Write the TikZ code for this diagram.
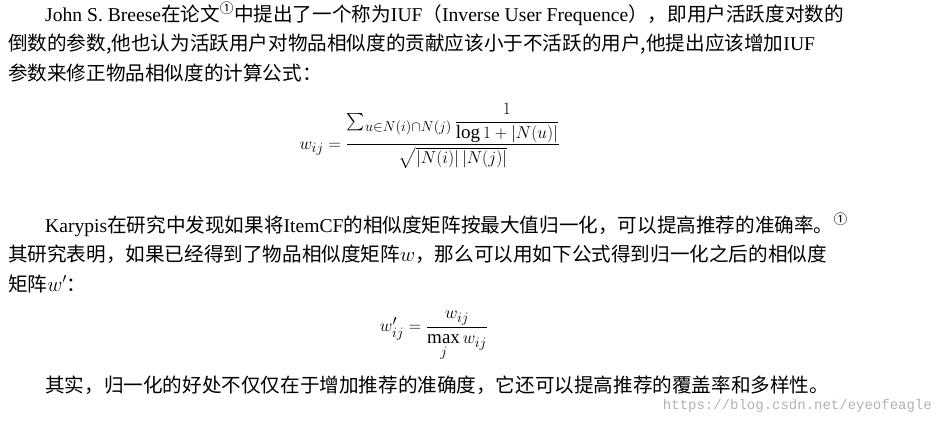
\documentclass[tikz,border=0pt]{standalone}
\usepackage{amsmath}
\usepackage{fontspec}
\setmainfont{Liberation Serif}
\newfontfamily\cjk{Noto Sans CJK SC}
\newfontfamily\wmfont{Liberation Mono}
\newcommand{\circone}{\textsuperscript{\cjk ①}}
\begin{document}
\begin{tikzpicture}[x=1pt,y=-1pt]
  % Styles
  \tikzset{para/.style={anchor=west,inner sep=0pt,font=\fontsize{19.6}{22}\selectfont},
           formula/.style={inner sep=0pt,font=\fontsize{19}{22}\selectfont}}
  \useasboundingbox[fill=white] (0,0) rectangle (943,424);

  % First paragraph
  \node[para] (l1) at (45,14) {John S. Breese{\cjk 在论文}\circone{\cjk 中提出了一个称为}IUF{\cjk （}Inverse User Frequence{\cjk ），即用户活跃度对数的}};
  \node[para] (l2) at (8,44) {{\cjk 倒数的参数,他也认为活跃用户对物品相似度的贡献应该小于不活跃的用户,他提出应该增加}IUF};
  \node[para] (l3) at (8,73) {{\cjk 参数来修正物品相似度的计算公式：}};
  \node[formula] (f1) at (430,136)
    {$w_{ij}=\dfrac{\sum_{u\in N(i)\cap N(j)}\dfrac{1}{\log 1+\left|N(u)\right|}}{\sqrt{\left|N(i)\right|\left|N(j)\right|}}$};

  % Second paragraph
  \node[para] (l4) at (45,225) {Karypis{\cjk 在研究中发现如果将}ItemCF{\cjk 的相似度矩阵按最大值归一化，可以提高推荐的准确率。}\circone};
  \node[para] (l5) at (8,254) {{\cjk 其研究表明，如果已经得到了物品相似度矩阵}$w${\cjk ，那么可以用如下公式得到归一化之后的相似度}};
  \node[para] (l6) at (8,284) {{\cjk 矩阵}$w'${\cjk ：}};
  \node[formula] (f2) at (434,336) {$w'_{ij}=\dfrac{w_{ij}}{\max\limits_{j} w_{ij}}$};
  \node[para] (l7) at (45,385) {{\cjk 其实，归一化的好处不仅仅在于增加推荐的准确度，它还可以提高推荐的覆盖率和多样性。}};

  % Watermark
  \node[anchor=east,inner sep=0pt,text=black!30,font=\wmfont\fontsize{14}{16}\selectfont] (wm) at (932,406) {https://blog.csdn.net/eyeofeagle};
\end{tikzpicture}
\end{document}
